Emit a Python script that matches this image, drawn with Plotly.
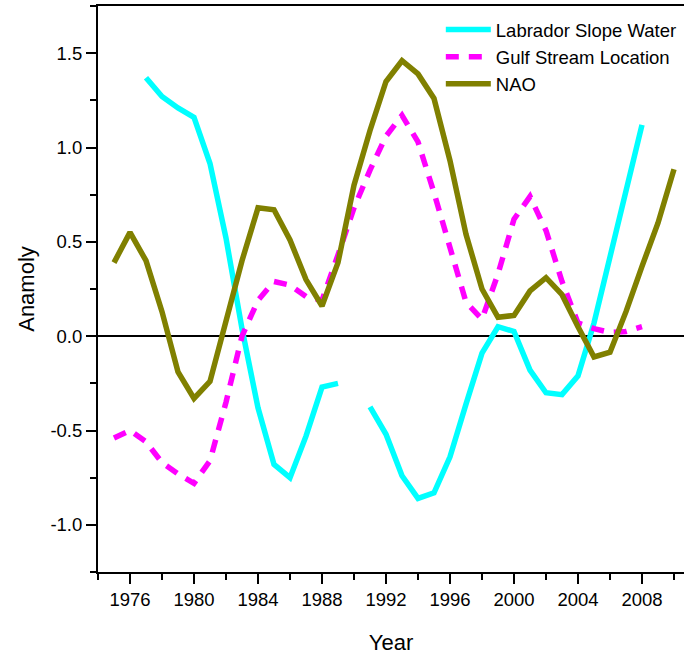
import plotly.graph_objects as go

years = list(range(1975, 2011))

labrador = [None, None, 1.37, 1.27, 1.21, 1.16, 0.915, 0.52, 0.04, -0.38,
            -0.68, -0.75, -0.53, -0.27, -0.25, None, -0.375, -0.52, -0.74, -0.86,
            -0.83, -0.64, -0.36, -0.09, 0.05, 0.025, -0.18, -0.30, -0.31, -0.21,
            0.07, 0.42, 0.77, 1.12, None, None]

gulf = [-0.54, -0.50, -0.56, -0.67, -0.73, -0.78, -0.66, -0.35, 0.0, 0.19,
        0.29, 0.27, 0.21, 0.19, 0.43, 0.68, 0.88, 1.06, 1.17, 1.03,
        0.76, 0.47, 0.18, 0.09, 0.33, 0.62, 0.74, 0.56, 0.29, 0.07,
        0.04, 0.02, 0.025, 0.05, None, None]

nao = [0.39, 0.55, 0.40, 0.13, -0.19, -0.33, -0.24, 0.08, 0.40, 0.68,
       0.67, 0.51, 0.30, 0.16, 0.39, 0.80, 1.09, 1.35, 1.46, 1.39,
       1.26, 0.93, 0.54, 0.25, 0.10, 0.11, 0.24, 0.31, 0.22, 0.05,
       -0.11, -0.085, 0.13, 0.37, 0.60, 0.885]

xtick_vals = [1976, 1980, 1984, 1988, 1992, 1996, 2000, 2004, 2008]
xtick_text = ["1976", "1980", "1984", "1988", "1992", "1996", "2000", "2004", "2008"]
ytick_vals = [1.5, 1.0, 0.5, 0.0, -0.5, -1.0]
ytick_text = ["1.5", "1.0", "0.5", "0.0", "-0.5", "-1.0"]

FONT = "Liberation Sans, Arial, sans-serif"

fig = go.Figure()
fig.add_trace(go.Scatter(x=years, y=labrador, mode="lines", name="Labrador Slope Water",
                         line=dict(color="#00FFFF", width=5.5), connectgaps=False))
fig.add_trace(go.Scatter(x=years, y=gulf, mode="lines", name="Gulf Stream Location",
                         line=dict(color="#FF00FF", width=5.5, dash="13px,10px")))
fig.add_trace(go.Scatter(x=years, y=nao, mode="lines", name="NAO",
                         line=dict(color="#808000", width=5.5)))

fig.update_layout(
    width=684, height=655,
    margin=dict(l=98, r=0, t=6, b=83),
    plot_bgcolor="white", paper_bgcolor="white",
    font=dict(family=FONT, size=18.5, color="black"),
    showlegend=True,
    legend=dict(x=0.585, y=0.991, xanchor="left", yanchor="top",
                bgcolor="rgba(0,0,0,0)", font=dict(size=18.5, family=FONT),
                tracegroupgap=0, itemwidth=45),
    xaxis=dict(range=[1974, 2010.625], showgrid=False, zeroline=False,
               showline=True, linecolor="black", linewidth=2, mirror=True,
               ticks="outside", ticklen=10, tickwidth=1.5, tickcolor="black",
               tickvals=xtick_vals, ticktext=xtick_text,
               minor=dict(dtick=2, tick0=1974, ticks="outside", ticklen=6, tickwidth=1.5, tickcolor="black"),
               title=dict(text="Year", font=dict(size=22, family=FONT), standoff=25)),
    yaxis=dict(range=[-1.25, 1.75], showgrid=False, zeroline=True,
               zerolinecolor="black", zerolinewidth=1.5,
               showline=True, linecolor="black", linewidth=2,
               ticks="outside", ticklen=10, tickwidth=1.5, tickcolor="black",
               tickvals=ytick_vals, ticktext=ytick_text,
               minor=dict(dtick=0.25, tick0=0, ticks="outside", ticklen=6, tickwidth=1.5, tickcolor="black"),
               title=dict(text="Anamoly", font=dict(size=22, family=FONT), standoff=10)),
)

fig.write_html("out.html")
